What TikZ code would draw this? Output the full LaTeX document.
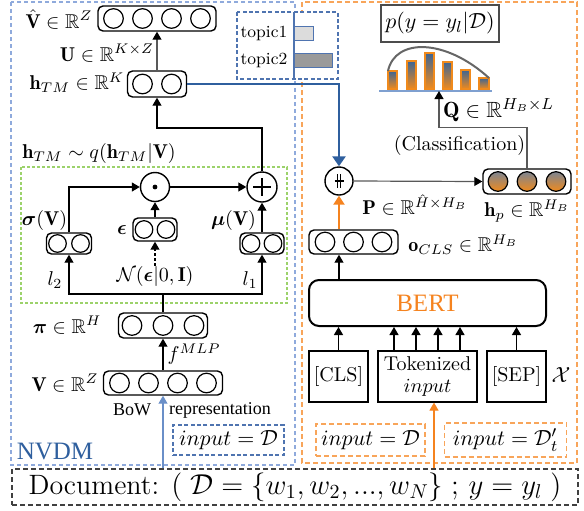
\documentclass[tikz,border=0pt]{standalone}
\usepackage{amsmath,amssymb}
\usepackage{fontspec}
\newfontfamily\tnr{Liberation Serif}
\usetikzlibrary{arrows.meta,calc}
\definecolor{nvdmblue}{HTML}{8FAADC}
\definecolor{darkblue}{HTML}{2F5F9E}
\definecolor{midblue}{HTML}{6A8FC8}
\definecolor{legblue}{HTML}{4F74B0}
\definecolor{bertorange}{HTML}{F5831F}
\definecolor{lightorange}{HTML}{F8A55A}
\definecolor{lgreen}{HTML}{9CD26B}
\definecolor{gtop}{HTML}{7D8592}
\definecolor{gbot}{HTML}{F08A1C}
\definecolor{btop}{HTML}{3E6593}
\definecolor{axblue}{HTML}{7FA0D0}
\definecolor{lgray}{HTML}{DCDCDC}
\definecolor{dgray}{HTML}{9A9A9A}
\begin{document}
\begin{tikzpicture}[x=0.5pt,y=-0.5pt, font=\fontsize{10}{12}\selectfont,
  every node/.style={inner sep=0pt},
  lay/.style={draw, rounded corners=2.5pt, line width=0.7pt, fill=white},
  neu/.style={draw, line width=0.6pt},
  arr/.style={-{Triangle[length=4pt,width=4.5pt]}, line width=0.6pt},
  grayarr/.style={draw=black!65, line width=0.6pt, -{Triangle[length=4pt,width=4.5pt,color=black]}},
  bluearr/.style={draw=darkblue, line width=1.2pt, -{Triangle[length=5pt,width=6.5pt,color=darkblue]}},
  bluethin/.style={draw=midblue, line width=0.6pt, -{Triangle[length=4pt,width=4.5pt,color=midblue]}},
  orarr/.style={draw=bertorange, line width=1.3pt, -{Triangle[length=4.5pt,width=5.5pt,color=bertorange]}},
  orthin/.style={draw=bertorange, line width=0.6pt, -{Triangle[length=4pt,width=4.5pt,color=bertorange]}},
  opcirc/.style={circle, draw, line width=0.7pt, fill=white},
  tokbox/.style={draw, line width=0.6pt, minimum height=25.5pt, align=center},
]
\useasboundingbox (0,0) rectangle (584,510);

% containers
\draw[nvdmblue, line width=1pt, dash pattern=on 2pt off 1.5pt] (11,2) rectangle (295,465);
\draw[lightorange, line width=0.7pt, dash pattern=on 2.5pt off 1.5pt] (302,2) rectangle (577,463);
\draw[lgreen, line width=0.6pt, dash pattern=on 1.5pt off 1pt] (21,167) rectangle (287,303);

% ---------------- NVDM side ----------------
\node[lay, minimum width=59pt, minimum height=12.5pt] (vhat) at (157,18.5) {};
\foreach \i in {-1.5,-0.5,0.5,1.5} \draw[neu] ($(vhat)+(\i*29,0)$) circle[radius=4.9pt];
\node (lvhat) at (59,19) {$\hat{\mathbf{V}}\in\mathbb{R}^{Z}$};

\node[lay, minimum width=29.5pt, minimum height=13pt] (htm) at (157,84) {};
\foreach \i in {-0.5,0.5} \draw[neu] ($(htm)+(\i*29,0)$) circle[radius=4.9pt];
\node (lhtm) at (77,83) {$\mathbf{h}_{TM}\in\mathbb{R}^{K}$};
\draw[grayarr] (htm.north) -- (vhat.south);
\node (lU) at (107,53) {$\mathbf{U}\in\mathbb{R}^{K\times Z}$};

\node (lq) at (99,153) {$\mathbf{h}_{TM}\sim q(\mathbf{h}_{TM}|\mathbf{V})$};

\node[opcirc, minimum size=14.5pt] (odot) at (155,187) {};
\fill (odot) circle[radius=1.2pt];
\node[opcirc, minimum size=15pt] (oplus) at (262,187) {};
\draw[line width=0.8pt] ($(oplus)+(-9,0)$) -- ($(oplus)+(9,0)$) ($(oplus)+(0,-9)$) -- ($(oplus)+(0,9)$);

\node[lay, minimum width=22.5pt, minimum height=10.5pt] (sigma) at (69,243.5) {};
\foreach \i in {-0.5,0.5} \draw[neu] ($(sigma)+(\i*23,0)$) circle[radius=4.4pt];
\node (lsigma) at (44.5,220) {$\boldsymbol{\sigma}(\mathbf{V})$};

\node[lay, minimum width=22pt, minimum height=11.5pt] (eps) at (155,229.5) {};
\foreach \i in {-0.5,0.5} \draw[neu] ($(eps)+(\i*22,0)$) circle[radius=4.4pt];
\node (leps) at (122,230) {$\boldsymbol{\epsilon}$};

\node[lay, minimum width=22pt, minimum height=10.5pt] (mu) at (262,243.5) {};
\foreach \i in {-0.5,0.5} \draw[neu] ($(mu)+(\i*22,0)$) circle[radius=4.4pt];
\node (lmu) at (233.5,220) {$\boldsymbol{\mu}(\mathbf{V})$};

\node (lN) at (155,276) {$\mathcal{N}(\boldsymbol{\epsilon}|0,\mathbf{I})$};
\node (l2) at (55,280) {$l_2$};
\node (l1) at (250,280) {$l_1$};

\draw[arr] (sigma.north) |- (odot.west);
\draw[arr] (odot.east) -- (oplus.west);
\draw[arr] (eps.north) -- (odot.south);
\draw[arr] (mu.north) -- (oplus.south);
\draw[arr, dash pattern=on 1.5pt off 1pt] (lN.north) -- (eps.south);
\coordinate (j1) at (157,128);
\draw[arr] (oplus.north) |- (j1) -- (htm.south);

\node[lay, minimum width=44.5pt, minimum height=12.5pt] (pi) at (163,325.5) {};
\foreach \i in {-1,0,1} \draw[neu] ($(pi)+(\i*31,0)$) circle[radius=4.9pt];
\node (lpi) at (67,325) {$\boldsymbol{\pi}\in\mathbb{R}^{H}$};

\coordinate (j2) at (163,294);
\draw[line width=0.6pt] (pi.north) -- (j2);
\draw[arr] (j2) -| (sigma.south);
\draw[arr] (j2) -| (mu.south);

\node[lay, minimum width=59.5pt, minimum height=12pt] (V) at (163,383) {};
\foreach \i in {-1.5,-0.5,0.5,1.5} \draw[neu] ($(V)+(\i*29,0)$) circle[radius=4.9pt];
\node (lV) at (65,383) {$\mathbf{V}\in\mathbb{R}^{Z}$};
\draw[arr] (V.north) -- (pi.south) node[midway, right=2pt] {$f^{MLP}$};

\node (bow) at (132,410) {\tnr\fontsize{9}{11}\selectfont BoW};
\node (rep) at (220,410) {\tnr\fontsize{9}{11}\selectfont representation};
\node[draw=legblue, line width=0.6pt, dash pattern=on 2pt off 1.2pt, minimum width=55.5pt, minimum height=15pt, font=\fontsize{11}{13}\selectfont] (inD) at (228.5,440) {$input=\mathcal{D}$};
\node[text=darkblue, font=\tnr\fontsize{12.5}{14}\selectfont] (nvdm) at (55,451) {NVDM};

% legend
\draw[legblue, line width=0.6pt, dash pattern=on 2pt off 1.2pt, fill=white] (237,12) rectangle (338,79);
\node[font=\fontsize{8.5}{10}\selectfont] (t1) at (264,33) {topic1};
\node[font=\fontsize{8.5}{10}\selectfont] (t2) at (264,60) {topic2};
\draw[fill=lgray, draw=legblue, line width=0.5pt] (294,26) rectangle (313,40);
\draw[fill=dgray, draw=legblue, line width=0.5pt] (294,53) rectangle (332,67);
\draw[legblue, line width=0.6pt] (294,12) -- (294,79);

% ---------------- BERT side ----------------
\node[draw=black!70, line width=0.6pt, minimum width=59pt, minimum height=18.5pt, font=\fontsize{11}{13}\selectfont] (pbox) at (440,23.5) {$p(y=y_l|\mathcal{D})$};

% bar chart
\draw[axblue, line width=0.7pt] (379,91) -- (492,91);
\foreach \xa/\xb/\yt in {388/397/71, 407/416/61, 425/434/53, 443/452/62, 461/470/70, 479/489/78}{
  \shade[top color=btop, bottom color=gbot] (\xa,\yt) rectangle (\xb,89);
  \draw[gbot, line width=0.6pt] (\xa,\yt) rectangle (\xb,89);
}
\draw[black!60, line width=1pt] (388,71) .. controls (395,38) and (445,38) .. (489,78);
\coordinate (axis) at (439,91);

\node[font=\fontsize{11}{13}\selectfont] (lQ) at (498.5,110) {$\mathbf{Q}\in\mathbb{R}^{H_B\times L}$};
\node (lcls) at (459.5,145) {(Classification)};

\node[opcirc, minimum size=14pt] (concat) at (339,181) {};
\draw[line width=0.6pt] ($(concat)+(-1.6,-7)$) -- ($(concat)+(-1.6,7)$) ($(concat)+(1.6,-7)$) -- ($(concat)+(1.6,7)$) ($(concat)+(-4.5,0)$) -- ($(concat)+(4.5,0)$);

\node[lay, minimum width=44pt, minimum height=12.5pt] (hp) at (527,181.5) {};
\foreach \i in {-1,0,1} {
  \shade[top color=gtop, bottom color=gbot] ($(hp)+(\i*29,0)$) circle[radius=4.9pt];
  \draw[neu] ($(hp)+(\i*29,0)$) circle[radius=4.9pt];
}
\node (lhp) at (527,211) {$\mathbf{h}_p\in\mathbb{R}^{H_B}$};
\node (lP) at (415,205) {$\mathbf{P}\in\mathbb{R}^{\hat H\times H_B}$};

\draw[grayarr] (concat.east) -- (hp.west);
\draw[grayarr] (hp.north) -- ++(0,-41) -| (axis);

\node[lay, minimum width=44.5pt, minimum height=12pt] (ocls) at (353.5,242) {};
\foreach \i in {-1,0,1} \draw[neu] ($(ocls)+(\i*28.5,0)$) circle[radius=4.9pt];
\node[anchor=west] (locls) at (408,245) {$\mathbf{o}_{CLS}\in\mathbb{R}^{H_B}$};

\draw[orarr] (ocls.north -| concat) -- (concat.south);
\draw[bluearr] (htm.east) -| (concat.north);

\node[draw, rounded corners=5pt, line width=1pt, minimum width=118.5pt, minimum height=23pt, text=bertorange, font=\tnr\fontsize{12.5}{14}\selectfont] (bert) at (427.5,303) {BERT};
\draw[arr] (bert.north -| concat) -- (ocls.south -| concat);

\node[tokbox, minimum width=29.5pt] (cls) at (338.5,376.5) {[CLS]};
\node[tokbox, minimum width=49.5pt] (tok) at (427.5,376.5) {Tokenized\\[-1pt]$input$};
\node[tokbox, minimum width=29.5pt] (sep) at (516.5,376.5) {[SEP]};
\node[font=\fontsize{11}{13}\selectfont] (lX) at (561,375) {$\mathcal{X}$};

\draw[arr] (cls.north) -- (cls.north |- bert.south);
\foreach \xx [count=\k] in {394,416,438,460} {
  \coordinate (tk\k) at (\xx,0);
  \draw[arr] (tok.north -| tk\k) -- (bert.south -| tk\k);
}
\draw[arr] (sep.north) -- (sep.north |- bert.south);

\node[draw=lightorange, line width=0.7pt, dash pattern=on 2.5pt off 1.5pt, minimum width=54.5pt, minimum height=16pt, font=\fontsize{11}{13}\selectfont] (inD2) at (370.5,440) {$input=\mathcal{D}$};
\node[draw=lightorange, line width=0.7pt, dash pattern=on 2.5pt off 1.5pt, minimum width=61pt, minimum height=17pt, font=\fontsize{11}{13}\selectfont] (inDt) at (505.5,440) {$input=\mathcal{D}'_t$};

% document
\node[draw=black!75, line width=0.7pt, dash pattern=on 2.5pt off 1.5pt, minimum width=283pt, minimum height=18pt, font=\fontsize{14}{16}\selectfont] (doc) at (295,487) {Document: $(\;\mathcal{D}=\{w_1,w_2,...,w_N\}\;;\,y=y_l\;)$};

\draw[bluethin] (V.south |- doc.north) -- (V.south);
\coordinate (tin) at (434,0);
\draw[orthin] (tin |- doc.north) -- (tin |- tok.south);
\end{tikzpicture}
\end{document}
